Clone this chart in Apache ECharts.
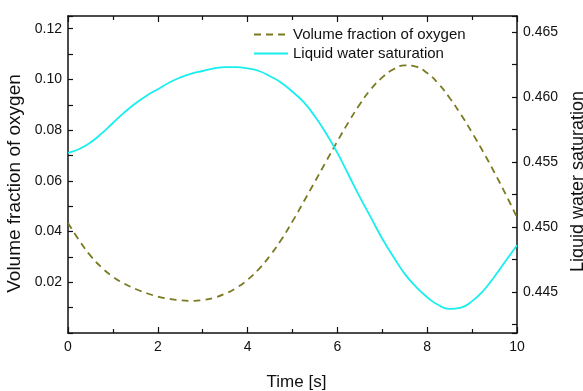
<!DOCTYPE html>
<html>
<head>
<meta charset="utf-8">
<script src="https://cdn.jsdelivr.net/npm/echarts@6/dist/echarts.min.js"></script>
<style>html,body{margin:0;padding:0;background:#fff;}#c{width:583px;height:391px;}</style>
</head>
<body>
<div id="c"></div>
<script>
const timeValues = [0, 0.25, 0.5, 0.75, 1, 1.25, 1.5, 1.75, 2, 2.25, 2.5, 2.75, 3, 3.25, 3.5, 3.75, 4, 4.25, 4.5, 4.75, 5, 5.25, 5.5, 5.75, 6, 6.25, 6.5, 6.75, 7, 7.25, 7.5, 7.75, 8, 8.25, 8.5, 8.75, 9, 9.25, 9.5, 9.75, 10];
const oxygenFraction = [0.0434, 0.0365, 0.0305, 0.0258, 0.0222, 0.0195, 0.0174, 0.0157, 0.0144, 0.0135, 0.0129, 0.0127, 0.0130, 0.0139, 0.0155, 0.0178, 0.0210, 0.0252, 0.0305, 0.0368, 0.0440, 0.0518, 0.0597, 0.0677, 0.0756, 0.0832, 0.0902, 0.0962, 0.1008, 0.1040, 0.1055, 0.1050, 0.1025, 0.0983, 0.0927, 0.0862, 0.0790, 0.0713, 0.0632, 0.0546, 0.0456];
const waterSaturation = [0.4557, 0.4560, 0.4565, 0.4572, 0.4580, 0.4588, 0.4595, 0.4601, 0.4606, 0.4611, 0.4615, 0.4618, 0.4620, 0.4622, 0.4623, 0.4623, 0.4622, 0.4620, 0.4616, 0.4611, 0.4604, 0.4596, 0.4585, 0.4572, 0.4557, 0.4540, 0.4523, 0.4507, 0.4491, 0.4477, 0.4464, 0.4454, 0.4446, 0.4440, 0.4437, 0.4438, 0.4443, 0.4451, 0.4462, 0.4474, 0.4486];
const seriesNames = ['Volume fraction of oxygen', 'Liquid water saturation'];
const axisTitles = { x: 'Time [s]', left: 'Volume fraction of oxygen', right: 'Liquid water saturation' };

const FONT = 'Liberation Sans, Arial, sans-serif';
const chart = echarts.init(document.getElementById('c'), null, { renderer: 'canvas' });
const axisLineCfg = { show: true, onZero: false, lineStyle: { color: '#111', width: 1.5 } };
const tickStyle = { color: '#111', width: 1.2 };

function leftFmt(v) {
  const s = v * 100, k = Math.round(s);
  if (Math.abs(s - k) > 1e-6 || k % 2 !== 0 || k === 0) return '';
  return v.toFixed(2);
}
function rightFmt(v) {
  const s = v * 1000, k = Math.round(s);
  if (Math.abs(s - k) > 1e-6 || k % 5 !== 0) return '';
  return v.toFixed(3);
}

chart.setOption({
  animation: false,
  backgroundColor: '#fff',
  textStyle: { fontFamily: FONT },
  grid: { left: 68, right: 66, top: 16, bottom: 58, containLabel: false, outerBoundsMode: 'none' },
  legend: {
    orient: 'vertical',
    left: 253, top: 27,
    padding: 0,
    itemWidth: 34, itemHeight: 14, itemGap: 4,
    itemStyle: { opacity: 0 },
    textStyle: { fontFamily: FONT, fontSize: 15, color: '#111' },
    data: seriesNames
  },
  xAxis: [{
    type: 'value', min: 0, max: 10, interval: 2, position: 'bottom',
    name: axisTitles.x, nameLocation: 'middle', nameGap: 41,
    nameTextStyle: { fontFamily: FONT, fontSize: 17, color: '#111', padding: [0, 0, 0, 8] },
    axisLine: axisLineCfg,
    axisTick: { show: true, inside: true, length: 6, lineStyle: tickStyle },
    minorTick: { show: true, splitNumber: 2, length: 4, lineStyle: tickStyle },
    axisLabel: { fontFamily: FONT, fontSize: 14, color: '#111', margin: 7 },
    splitLine: { show: false }
  }, {
    type: 'value', min: 0, max: 10, interval: 2, position: 'top',
    axisLine: axisLineCfg,
    axisTick: { show: true, inside: true, length: 6, lineStyle: tickStyle },
    minorTick: { show: true, splitNumber: 2, length: 4, lineStyle: tickStyle },
    axisLabel: { show: false },
    splitLine: { show: false }
  }],
  yAxis: [{
    type: 'value', min: 0, max: 0.125, interval: 0.01, position: 'left',
    name: axisTitles.left, nameLocation: 'middle', nameGap: 35, nameRotate: 90,
    nameTextStyle: { fontFamily: FONT, fontSize: 19, color: '#111', padding: [0, 18, 0, 0] },
    axisLine: axisLineCfg,
    axisTick: { show: true, inside: true, length: 5, lineStyle: tickStyle },
    axisLabel: { fontFamily: FONT, fontSize: 14, color: '#111', margin: 6, formatter: leftFmt },
    splitLine: { show: false }
  }, {
    type: 'value', min: 0.44185, max: 0.46623, minInterval: 0.0025, maxInterval: 0.0025, splitNumber: 10,
    position: 'right', alignTicks: false,
    name: axisTitles.right, nameLocation: 'middle', nameGap: 31, nameRotate: 90,
    nameTextStyle: { fontFamily: FONT, fontSize: 18, color: '#111', padding: [0, 14, 0, 0] },
    axisLine: axisLineCfg,
    axisTick: { show: true, inside: true, length: 5, lineStyle: tickStyle },
    axisLabel: { fontFamily: FONT, fontSize: 14, color: '#111', margin: 6, formatter: rightFmt },
    splitLine: { show: false }
  }],
  series: [{
    name: seriesNames[0], type: 'line', xAxisIndex: 0, yAxisIndex: 0,
    data: timeValues.map((t, i) => [t, oxygenFraction[i]]),
    smooth: true, symbol: 'none',
    lineStyle: { color: '#7a7a22', width: 1.8, type: [7, 5] },
    itemStyle: { color: '#7a7a22' }
  }, {
    name: seriesNames[1], type: 'line', xAxisIndex: 0, yAxisIndex: 1,
    data: timeValues.map((t, i) => [t, waterSaturation[i]]),
    smooth: true, symbol: 'none',
    lineStyle: { color: '#19eeee', width: 1.8, type: 'solid' },
    itemStyle: { color: '#19eeee' }
  }]
});
</script>
</body>
</html>
